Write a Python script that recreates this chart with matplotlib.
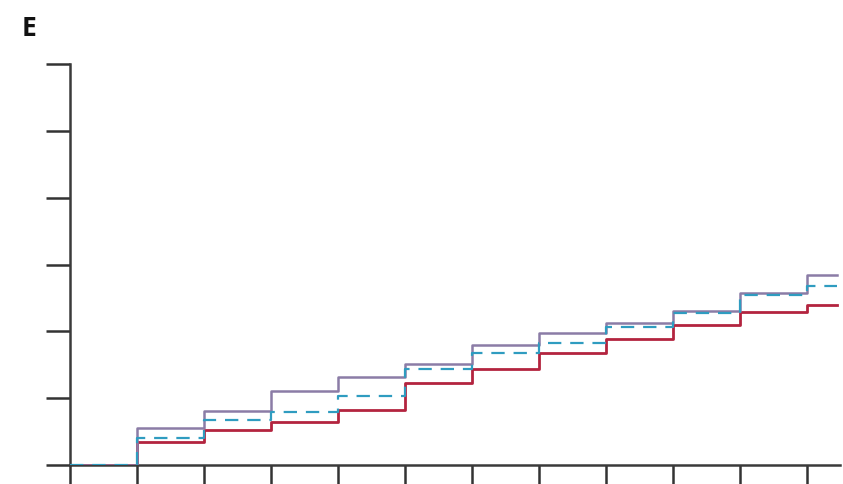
import numpy as np
import matplotlib.pyplot as plt

# step positions (one value per interval, last interval runs to x_end)
steps = [0, 1, 2, 3, 4, 5, 6, 7, 8, 9, 10, 11]
x_end = 11.45

upper = [0, 5.6, 8.1, 11.0, 13.2, 15.1, 17.9, 19.8, 21.3, 23.0, 25.7, 28.4]
mean = [0, 4.0, 6.7, 7.9, 10.3, 14.4, 16.8, 18.3, 20.7, 22.8, 25.5, 26.8]
lower = [0, 3.4, 5.2, 6.5, 8.3, 12.2, 14.3, 16.7, 18.9, 21.0, 22.9, 24.0]

yticks = [0, 10, 20, 30, 40, 50, 60]


def stepped(vals):
    xs = np.append(steps, x_end)
    ys = np.append(vals, vals[-1])
    return xs, ys


fig = plt.figure(figsize=(8.43, 4.85), dpi=100)
ax = fig.add_axes([70 / 843, 19 / 485, 770 / 843, 401 / 485])

ax.plot(*stepped(lower), drawstyle='steps-post', color='#b3243f', lw=2.0,
        zorder=3)
ax.plot(*stepped(upper), drawstyle='steps-post', color='#8b7ca6', lw=1.8,
        zorder=4)
ax.plot(*stepped(mean), drawstyle='steps-post', color='#2f9cc0', lw=1.6,
        dashes=(6, 4), zorder=5)

ax.set_xlim(0, 770 / 67)
ax.set_ylim(0, 60)
ax.set_xticks(steps)
ax.set_yticks(yticks)
ax.set_xticklabels([])
ax.set_yticklabels([])
ax.tick_params(direction='out', length=17, width=1.8, color='#333333')

for side in ['top', 'right']:
    ax.spines[side].set_visible(False)
for side in ['left', 'bottom']:
    ax.spines[side].set_color('#3a3a3a')
    ax.spines[side].set_linewidth(1.8)
    ax.spines[side].set_zorder(2)

fig.text(22 / 843, 1 - 36 / 485, 'E', fontsize=19, fontweight='bold',
         family='Open Sans', color='#111111')

fig.savefig('out.png', dpi=100)
